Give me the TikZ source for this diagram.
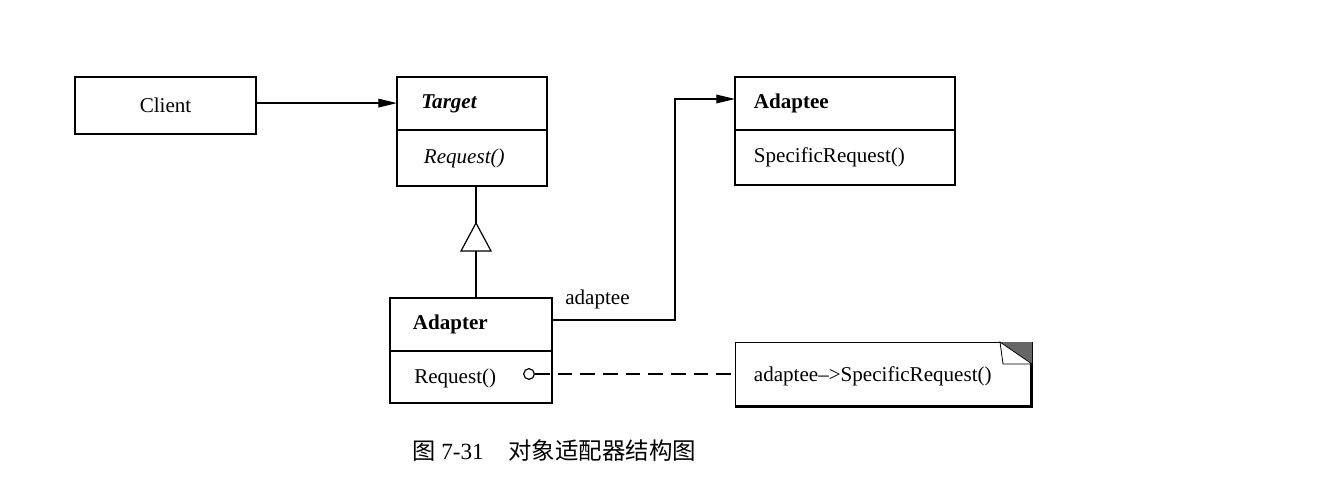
\documentclass[tikz,border=0pt]{standalone}
\usepackage{fontspec}
\setmainfont{Liberation Serif}
\newfontfamily\cjk{Noto Sans CJK SC}
\usetikzlibrary{arrows.meta}
\begin{document}
\begin{tikzpicture}[x=0.75pt,y=-0.75pt,
  every node/.style={font=\fontsize{15.8}{19}\selectfont},
  box/.style={draw,line width=0.9pt,inner sep=0pt,outer sep=0pt},
  txt/.style={anchor=west,inner sep=0pt},
  conn/.style={line width=0.9pt},
  arr/.style={conn,-{Triangle[length=14pt,width=6.5pt]}}]
\useasboundingbox (0,0) rectangle (1319,495);
% Client
\node[box,minimum width=135.75pt,minimum height=42.75pt] (client) at (165.5,105.5) {Client};
% Target
\node[box,minimum width=112.5pt,minimum height=39.75pt] (thead) at (472,103.5) {};
\node[box,minimum width=112.5pt,minimum height=42pt,anchor=north] (tbody) at (thead.south) {};
\node[txt] (ttitle) at ([xshift=18pt]thead.west) {\textbf{\textit{Target}}};
\node[txt] (top) at ([xshift=20pt]tbody.west) {\textit{Request()}};
% Adaptee
\node[box,minimum width=165pt,minimum height=39.75pt] (ehead) at (845,103.5) {};
\node[box,minimum width=165pt,minimum height=41.25pt,anchor=north] (ebody) at (ehead.south) {};
\node[txt] (etitle) at ([xshift=14pt]ehead.west) {\textbf{Adaptee}};
\node[txt] (eop) at ([xshift=14pt]ebody.west) {SpecificRequest()};
% Adapter
\node[box,minimum width=121.5pt,minimum height=39.75pt] (ahead) at (471,324.5) {};
\node[box,minimum width=121.5pt,minimum height=39pt,anchor=north] (abody) at (ahead.south) {};
\node[txt] (atitle) at ([xshift=17pt]ahead.west) {\textbf{Adapter}};
\node[txt] (aop) at ([xshift=18pt,yshift=-1pt]abody.west) {Request()};
% Note
\node[draw,line width=0.6pt,outer sep=0pt,minimum width=222.75pt,minimum height=48.75pt,inner sep=0pt] (note) at (883.5,374.5) {};
\node[txt] (ntext) at ([xshift=14pt,yshift=-1pt]note.west) {adaptee\textendash>SpecificRequest()};
\draw[line width=1.8pt] ([xshift=-0.6pt]note.north east) -- ([xshift=-0.6pt,yshift=0.6pt]note.south east)
  -- ([yshift=0.6pt]note.south west);
\fill[gray!80!black] (1000,342) -- (1032,342) -- (1032,364) -- cycle;
\draw[line width=0.6pt,fill=white] (1000,342) -- (1003,364) -- (1032,364) -- cycle;
% Client -> Target
\draw[arr] ([yshift=1.8pt]client.east) -- ([yshift=1.8pt]client.east -| thead.west);
% Inheritance
\coordinate (apex) at (476,223);
\coordinate (base) at (476,251);
\draw[conn] (tbody.south -| apex) -- (apex);
\draw[conn,fill=white] (apex) -- (491,251) -- (461,251) -- cycle;
\draw[conn] (base) -- (base |- ahead.north);
% Adapter -> Adaptee
\coordinate (bend) at (675,99);
\draw[arr] ([yshift=3.4pt]ahead.east) -| (bend) -- (bend -| ehead.west);
\node[txt,anchor=south west] (lbl) at (565,309) {adaptee};
% dashed note link
\node[draw,circle,line width=0.9pt,minimum size=8pt,inner sep=0pt] (circ) at (529,374) {};
\draw[conn,dash pattern=on 11pt off 6pt] (circ.east) -- (circ.east -| note.west);
% Caption
\node[txt] (cap1) at (412,451) {\fontsize{17.4}{20}\selectfont{\cjk 图} 7-31};
\node[txt] (cap2) at (508,451) {\fontsize{17.6}{20}\selectfont\cjk 对象适配器结构图};
\end{tikzpicture}
\end{document}
